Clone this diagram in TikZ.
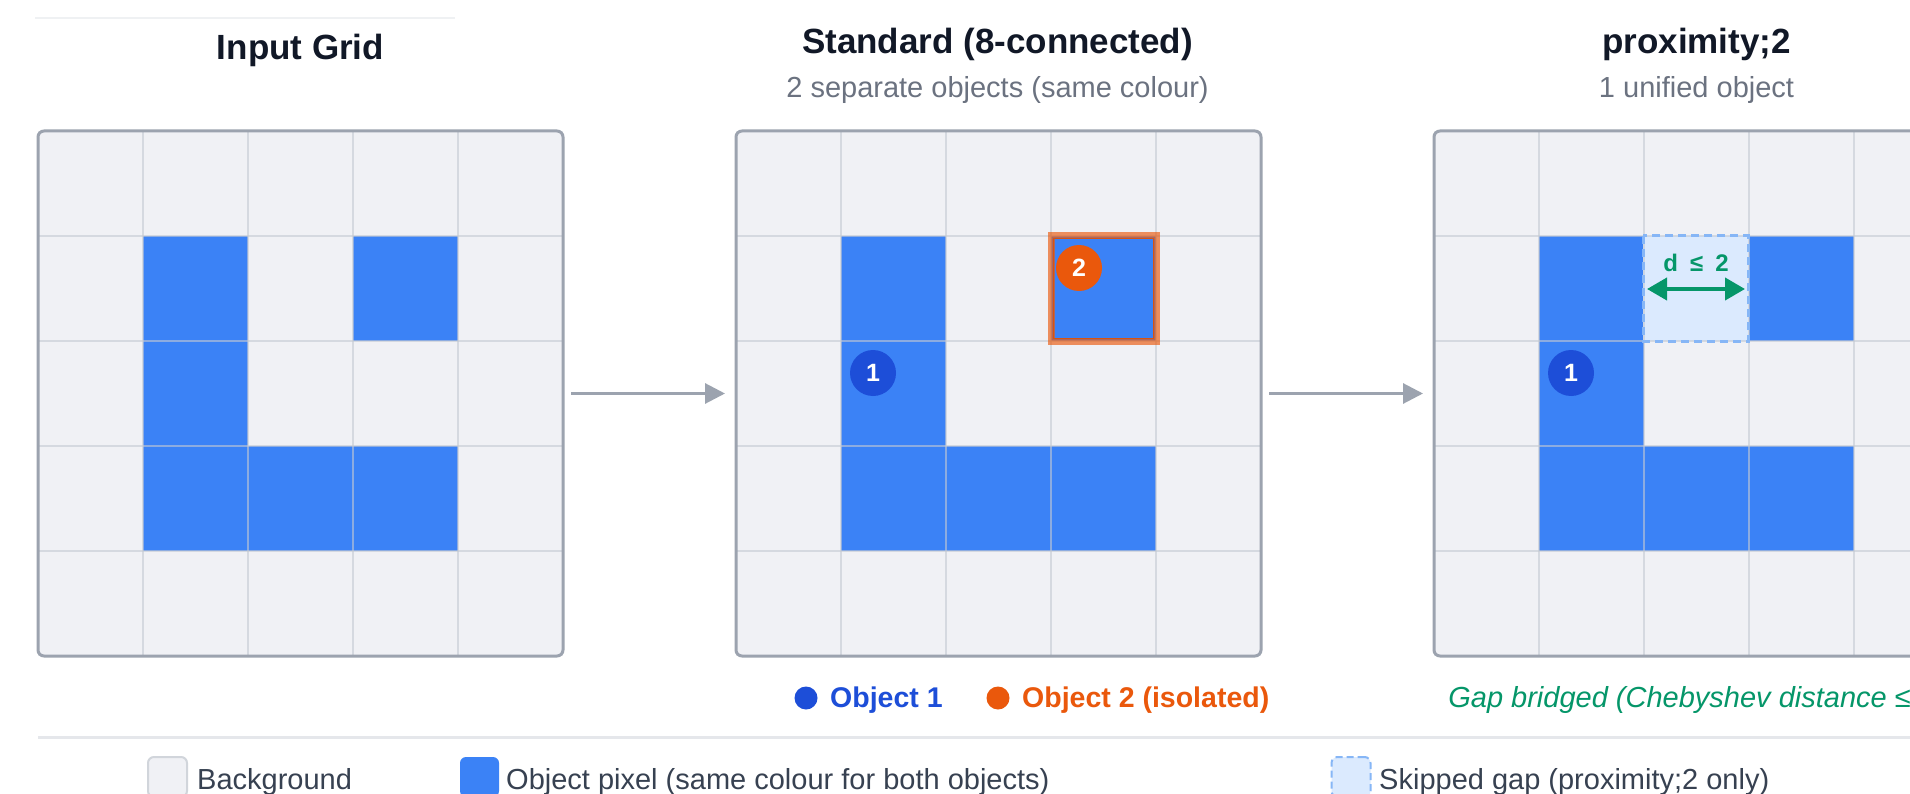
\documentclass[tikz,border=0pt]{standalone}
\usepackage{fontspec}
\setmainfont{Liberation Sans}
\usetikzlibrary{arrows.meta}
\definecolor{cellbg}{HTML}{F0F1F5}
\definecolor{objblue}{HTML}{3B82F6}
\definecolor{badgeblue}{HTML}{1D4ED8}
\definecolor{orng}{HTML}{EA580C}
\definecolor{orngdark}{HTML}{D9530F}
\definecolor{grn}{HTML}{059669}
\definecolor{gapfill}{HTML}{DBEAFE}
\definecolor{gapborder}{HTML}{86B6F6}
\definecolor{framecol}{HTML}{9CA3AF}
\definecolor{linecol}{HTML}{C4C9D2}
\definecolor{arrowcol}{HTML}{9CA3AF}
\definecolor{titlecol}{HTML}{111827}
\definecolor{subcol}{HTML}{6B7280}
\definecolor{legcol}{HTML}{374151}
\definecolor{sepcol}{HTML}{E5E7EB}
\definecolor{swborder}{HTML}{D1D5DB}
\tikzset{
  titletext/.style={anchor=base, inner sep=0pt, text=titlecol, font=\fontsize{35}{42}\selectfont\bfseries},
  subtext/.style={anchor=base, inner sep=0pt, text=subcol, font=\fontsize{29}{34}\selectfont},
  gridframe/.style={draw=framecol, line width=3pt, rounded corners=6pt, minimum width=525pt, minimum height=525pt, inner sep=0pt, outer sep=0pt},
  gridline/.style={draw=linecol, draw opacity=0.6, line width=2pt},
  flowarrow/.style={draw=arrowcol, line width=3pt, -{Triangle[length=20pt,width=20pt]}},
  badge/.style={circle, minimum size=46pt, inner sep=0pt, text=white, font=\fontsize{25}{25}\selectfont\bfseries},
  gapcell/.style={minimum width=105pt, minimum height=105pt, inner sep=0pt, outer sep=0pt},
  gapdash/.style={draw=gapborder, line width=3pt, dash pattern=on 8pt off 5pt},
  gaparrow/.style={draw=grn, line width=4pt, {Triangle[length=20pt,width=22pt]}-{Triangle[length=20pt,width=22pt]}},
  gaptext/.style={anchor=base, inner sep=0pt, text=grn, font=\fontsize{24}{26}\selectfont\bfseries},
  dotmark/.style={circle, minimum size=23pt, inner sep=0pt},
  captext/.style={anchor=base west, inner sep=0pt, font=\fontsize{28.5}{32}\selectfont\bfseries},
  legtext/.style={anchor=base west, inner sep=0pt, text=legcol, font=\fontsize{29}{34}\selectfont},
  swatch/.style={rounded corners=6pt, minimum width=39pt, minimum height=40pt, inner sep=0pt, line width=2pt},
}
\begin{document}
\begin{tikzpicture}[x=1pt,y=-1pt]
\useasboundingbox (0,0) rectangle (1910,794);
\clip (0,0) rectangle (1910,794);
\fill[white] (0,0) rectangle (1910,794);

% faint top rule
\draw[draw=sepcol!60, line width=1.5pt] (35,18) -- (455,18);

% titles
\node[titletext] (t1) at (300.5,60) {Input Grid};
\node[titletext] (t2) at (997.5,53.5) {Standard (8-connected)};
\node[subtext] (s2) at (997.5,98) {2 separate objects (same colour)};
\node[titletext] (t3) at (1696.5,53.5) {proximity;2};
\node[subtext] (s3) at (1696.5,98) {1 unified object};

% grid cells
\foreach \gx in {38,736,1434}{
  \fill[cellbg] (\gx,131) rectangle ++(525,525);
  \foreach \r/\c in {1/1,1/3,2/1,3/1,3/2,3/3}
    \fill[objblue] ({\gx+\c*105},{131+\r*105}) rectangle ++(105,105);
}
% gap cell in third grid
\node[gapcell, fill=gapfill] (gap) at (1695.5,288.5) {};

% grid lines
\foreach \gx in {38,736,1434}{
  \foreach \k in {1,...,4}{
    \draw[gridline] ({\gx+\k*105},131) -- ++(0,525);
    \draw[gridline] (\gx,{131+\k*105}) -- ++(525,0);
  }
}
\draw[gapdash] (gap.north west) rectangle (gap.south east);

% frames
\node[gridframe] (g1) at (300.5,393.5) {};
\node[gridframe] (g2) at (998.5,393.5) {};
\node[gridframe] (g3) at (1696.5,393.5) {};

% flow arrows
\draw[flowarrow] ([xshift=8pt]g1.east) -- ([xshift=-11pt]g2.west);
\draw[flowarrow] ([xshift=8pt]g2.east) -- ([xshift=-11pt]g3.west);

% isolated object highlight
\node[gapcell, draw=orng, draw opacity=0.65, line width=7pt] (hl) at (1103.5,288.5) {};
\draw[draw=orngdark, line width=1.5pt] ([xshift=2.5pt,yshift=-2.5pt]hl.north west) rectangle ([xshift=-2.5pt,yshift=2.5pt]hl.south east);

% badges
\node[badge, fill=badgeblue] (b1) at (873,373) {1};
\node[badge, fill=orng] (b2) at (1079,268) {2};
\node[badge, fill=badgeblue] (b3) at (1571,373) {1};

% gap distance arrow
\coordinate (gl) at (1647,289);
\coordinate (gr) at (1745,289);
\draw[gaparrow] (gl) -- (gr);
\node[gaptext] (dl) at (1696,271) {d\hspace{12pt}≤\hspace{12pt}2};

% captions
\node[dotmark, fill=badgeblue] (d1) at (806,698) {};
\node[captext, text=badgeblue] (c1) at (830,707) {Object 1};
\node[dotmark, fill=orng] (d2) at (998,698) {};
\node[captext, text=orng] (c2) at (1022,707) {Object 2 (isolated)};
\node[anchor=base, inner sep=0pt, text=grn, font=\fontsize{29}{34}\selectfont\itshape] (c3) at (1696.5,707) {Gap bridged (Chebyshev distance ≤ 2)};

% separator
\draw[draw=sepcol, line width=2.5pt] (38,737.5) -- (1910,737.5);

% legend
\node[swatch, fill=cellbg, draw=swborder] (lbg) at (167.5,777) {};
\node[legtext] (lt1) at (197,789) {Background};
\node[swatch, fill=objblue] (lob) at (479.5,777) {};
\node[legtext] (lt2) at (506,789) {Object pixel (same colour for both objects)};
\node[swatch, fill=gapfill, draw=gapborder, dash pattern=on 7pt off 4pt] (lgp) at (1351,777) {};
\node[legtext] (lt3) at (1379,789) {Skipped gap (proximity;2 only)};
\end{tikzpicture}
\end{document}
